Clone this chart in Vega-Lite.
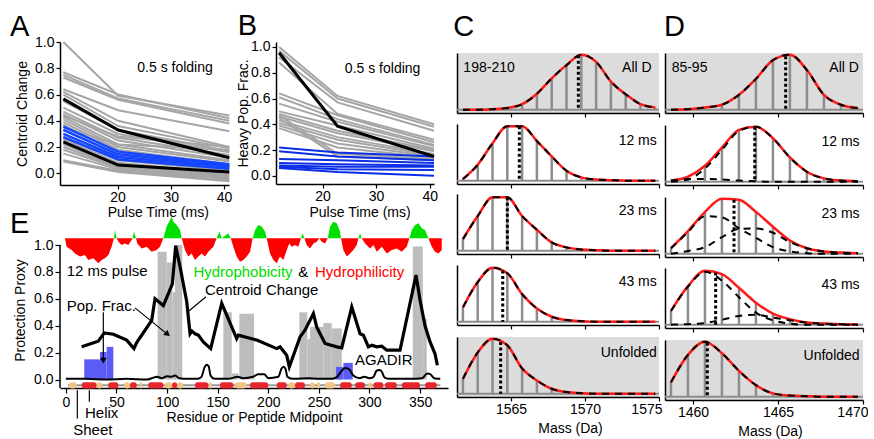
{
"$schema": "https://vega.github.io/schema/vega-lite/v6.json",
"padding": {"left": 10, "top": 12, "right": 0, "bottom": 0},
"autosize": {"type": "pad"},
"config": {
  "view": {"stroke": null},
  "font": "Liberation Sans",
  "axis": {"labelFont": "Liberation Sans", "titleFont": "Liberation Sans", "labelFontSize": 14, "titleFontSize": 14, "titleFontWeight": "normal", "labelColor": "#000", "titleColor": "#000", "domainColor": "#000", "tickColor": "#000", "grid": false, "domainWidth": 1.5, "tickWidth": 1.2, "tickSize": 4, "labelPadding": 2, "labelOverlap": false},
  "text": {"font": "Liberation Sans", "color": "#000"}
},
"datasets": {
  "dA": [
    {"id":"g1","g":"gray","t":9.8,"v":1.0},{"id":"g1","g":"gray","t":20.1,"v":0.59},{"id":"g1","g":"gray","t":41,"v":0.44},
    {"id":"g2","g":"gray","t":9.8,"v":0.77},{"id":"g2","g":"gray","t":20.1,"v":0.60},{"id":"g2","g":"gray","t":41,"v":0.42},
    {"id":"g3","g":"gray","t":9.8,"v":0.75},{"id":"g3","g":"gray","t":20.1,"v":0.57},{"id":"g3","g":"gray","t":41,"v":0.40},
    {"id":"g4","g":"gray","t":9.8,"v":0.73},{"id":"g4","g":"gray","t":20.1,"v":0.56},{"id":"g4","g":"gray","t":41,"v":0.38},
    {"id":"g5","g":"gray","t":9.8,"v":0.64},{"id":"g5","g":"gray","t":20.1,"v":0.48},{"id":"g5","g":"gray","t":41,"v":0.32},
    {"id":"g6","g":"gray","t":9.8,"v":0.62},{"id":"g6","g":"gray","t":20.1,"v":0.40},{"id":"g6","g":"gray","t":41,"v":0.20},
    {"id":"g7","g":"gray","t":9.8,"v":0.60},{"id":"g7","g":"gray","t":20.1,"v":0.36},{"id":"g7","g":"gray","t":41,"v":0.19},
    {"id":"g8","g":"gray","t":9.8,"v":0.55},{"id":"g8","g":"gray","t":20.1,"v":0.33},{"id":"g8","g":"gray","t":41,"v":0.17},
    {"id":"g9","g":"gray","t":9.8,"v":0.50},{"id":"g9","g":"gray","t":20.1,"v":0.30},{"id":"g9","g":"gray","t":41,"v":0.16},
    {"id":"g10","g":"gray","t":9.8,"v":0.47},{"id":"g10","g":"gray","t":20.1,"v":0.27},{"id":"g10","g":"gray","t":41,"v":0.14},
    {"id":"g11","g":"gray","t":9.8,"v":0.45},{"id":"g11","g":"gray","t":20.1,"v":0.25},{"id":"g11","g":"gray","t":41,"v":0.12},
    {"id":"g12","g":"gray","t":9.8,"v":0.43},{"id":"g12","g":"gray","t":20.1,"v":0.22},{"id":"g12","g":"gray","t":41,"v":0.10},
    {"id":"g13","g":"gray","t":9.8,"v":0.41},{"id":"g13","g":"gray","t":20.1,"v":0.20},{"id":"g13","g":"gray","t":41,"v":0.09},
    {"id":"g14","g":"gray","t":9.8,"v":0.39},{"id":"g14","g":"gray","t":20.1,"v":0.18},{"id":"g14","g":"gray","t":41,"v":0.07},
    {"id":"g15","g":"gray","t":9.8,"v":0.37},{"id":"g15","g":"gray","t":20.1,"v":0.16},{"id":"g15","g":"gray","t":41,"v":0.06},
    {"id":"g16","g":"gray","t":9.8,"v":0.33},{"id":"g16","g":"gray","t":20.1,"v":0.14},{"id":"g16","g":"gray","t":41,"v":0.05},
    {"id":"g17","g":"gray","t":9.8,"v":0.30},{"id":"g17","g":"gray","t":20.1,"v":0.12},{"id":"g17","g":"gray","t":41,"v":0.03},
    {"id":"g18","g":"gray","t":9.8,"v":0.28},{"id":"g18","g":"gray","t":20.1,"v":0.10},{"id":"g18","g":"gray","t":41,"v":0.02},
    {"id":"g19","g":"gray","t":9.8,"v":0.26},{"id":"g19","g":"gray","t":20.1,"v":0.08},{"id":"g19","g":"gray","t":41,"v":0.0},
    {"id":"g20","g":"gray","t":9.8,"v":0.22},{"id":"g20","g":"gray","t":20.1,"v":0.06},{"id":"g20","g":"gray","t":41,"v":-0.01},
    {"id":"g21","g":"gray","t":9.8,"v":0.20},{"id":"g21","g":"gray","t":20.1,"v":0.05},{"id":"g21","g":"gray","t":41,"v":-0.02},
    {"id":"g22","g":"gray","t":9.8,"v":0.18},{"id":"g22","g":"gray","t":20.1,"v":0.04},{"id":"g22","g":"gray","t":41,"v":-0.03},
    {"id":"g23","g":"gray","t":9.8,"v":0.15},{"id":"g23","g":"gray","t":20.1,"v":0.03},{"id":"g23","g":"gray","t":41,"v":-0.04},
    {"id":"g24","g":"gray","t":9.8,"v":0.10},{"id":"g24","g":"gray","t":20.1,"v":0.02},{"id":"g24","g":"gray","t":41,"v":-0.05},
    {"id":"g25","g":"gray","t":9.8,"v":0.09},{"id":"g25","g":"gray","t":20.1,"v":0.01},{"id":"g25","g":"gray","t":41,"v":-0.06},
    {"id":"g26","g":"gray","t":9.8,"v":0.44},{"id":"g26","g":"gray","t":20.1,"v":0.28},{"id":"g26","g":"gray","t":41,"v":0.20},
    {"id":"g27","g":"gray","t":9.8,"v":0.35},{"id":"g27","g":"gray","t":20.1,"v":0.22},{"id":"g27","g":"gray","t":41,"v":0.18},
    {"id":"b1","g":"blue","t":9.8,"v":0.355},{"id":"b1","g":"blue","t":20.1,"v":0.165},{"id":"b1","g":"blue","t":41,"v":0.07},
    {"id":"b2","g":"blue","t":9.8,"v":0.33},{"id":"b2","g":"blue","t":20.1,"v":0.145},{"id":"b2","g":"blue","t":41,"v":0.06},
    {"id":"b3","g":"blue","t":9.8,"v":0.30},{"id":"b3","g":"blue","t":20.1,"v":0.125},{"id":"b3","g":"blue","t":41,"v":0.05},
    {"id":"b4","g":"blue","t":9.8,"v":0.275},{"id":"b4","g":"blue","t":20.1,"v":0.105},{"id":"b4","g":"blue","t":41,"v":0.035},
    {"id":"k1","g":"black","t":9.8,"v":0.567},{"id":"k1","g":"black","t":20.1,"v":0.33},{"id":"k1","g":"black","t":41,"v":0.119},
    {"id":"k2","g":"black","t":9.8,"v":0.24},{"id":"k2","g":"black","t":20.1,"v":0.063},{"id":"k2","g":"black","t":41,"v":0.01}
  ],
  "dB": [
    {"id":"g1","g":"gray","t":11.9,"v":1.0},{"id":"g1","g":"gray","t":22.8,"v":0.62},{"id":"g1","g":"gray","t":40.8,"v":0.40},
    {"id":"g2","g":"gray","t":11.9,"v":0.97},{"id":"g2","g":"gray","t":22.8,"v":0.60},{"id":"g2","g":"gray","t":40.8,"v":0.38},
    {"id":"g3","g":"gray","t":11.9,"v":0.92},{"id":"g3","g":"gray","t":22.8,"v":0.57},{"id":"g3","g":"gray","t":40.8,"v":0.35},
    {"id":"g4","g":"gray","t":11.9,"v":0.88},{"id":"g4","g":"gray","t":22.8,"v":0.48},{"id":"g4","g":"gray","t":40.8,"v":0.28},
    {"id":"g5","g":"gray","t":11.9,"v":0.64},{"id":"g5","g":"gray","t":22.8,"v":0.47},{"id":"g5","g":"gray","t":40.8,"v":0.26},
    {"id":"g6","g":"gray","t":11.9,"v":0.61},{"id":"g6","g":"gray","t":22.8,"v":0.44},{"id":"g6","g":"gray","t":40.8,"v":0.24},
    {"id":"g7","g":"gray","t":11.9,"v":0.56},{"id":"g7","g":"gray","t":22.8,"v":0.42},{"id":"g7","g":"gray","t":40.8,"v":0.23},
    {"id":"g8","g":"gray","t":11.9,"v":0.50},{"id":"g8","g":"gray","t":22.8,"v":0.39},{"id":"g8","g":"gray","t":40.8,"v":0.21},
    {"id":"g9","g":"gray","t":11.9,"v":0.48},{"id":"g9","g":"gray","t":22.8,"v":0.35},{"id":"g9","g":"gray","t":40.8,"v":0.20},
    {"id":"g10","g":"gray","t":11.9,"v":0.46},{"id":"g10","g":"gray","t":22.8,"v":0.33},{"id":"g10","g":"gray","t":40.8,"v":0.19},
    {"id":"g11","g":"gray","t":11.9,"v":0.43},{"id":"g11","g":"gray","t":22.8,"v":0.30},{"id":"g11","g":"gray","t":40.8,"v":0.17},
    {"id":"g12","g":"gray","t":11.9,"v":0.41},{"id":"g12","g":"gray","t":22.8,"v":0.28},{"id":"g12","g":"gray","t":40.8,"v":0.16},
    {"id":"g13","g":"gray","t":11.9,"v":0.39},{"id":"g13","g":"gray","t":22.8,"v":0.25},{"id":"g13","g":"gray","t":40.8,"v":0.15},
    {"id":"g14","g":"gray","t":11.9,"v":0.37},{"id":"g14","g":"gray","t":22.8,"v":0.22},{"id":"g14","g":"gray","t":40.8,"v":0.14},
    {"id":"g15","g":"gray","t":11.9,"v":0.47},{"id":"g15","g":"gray","t":22.8,"v":0.17},{"id":"g15","g":"gray","t":40.8,"v":0.13},
    {"id":"g16","g":"gray","t":11.9,"v":0.45},{"id":"g16","g":"gray","t":22.8,"v":0.15},{"id":"g16","g":"gray","t":40.8,"v":0.12},
    {"id":"u1","g":"blue","t":11.9,"v":0.22},{"id":"u1","g":"blue","t":22.8,"v":0.18},{"id":"u1","g":"blue","t":40.8,"v":0.15},
    {"id":"u2","g":"blue","t":11.9,"v":0.19},{"id":"u2","g":"blue","t":22.8,"v":0.15},{"id":"u2","g":"blue","t":40.8,"v":0.12},
    {"id":"u3","g":"blue","t":11.9,"v":0.13},{"id":"u3","g":"blue","t":22.8,"v":0.12},{"id":"u3","g":"blue","t":40.8,"v":0.10},
    {"id":"u4","g":"blue","t":11.9,"v":0.10},{"id":"u4","g":"blue","t":22.8,"v":0.09},{"id":"u4","g":"blue","t":40.8,"v":0.08},
    {"id":"u5","g":"blue","t":11.9,"v":0.08},{"id":"u5","g":"blue","t":22.8,"v":0.07},{"id":"u5","g":"blue","t":40.8,"v":0.07},
    {"id":"u6","g":"blue","t":11.9,"v":0.07},{"id":"u6","g":"blue","t":22.8,"v":0.05},{"id":"u6","g":"blue","t":40.8,"v":0.045},
    {"id":"u7","g":"blue","t":11.9,"v":0.06},{"id":"u7","g":"blue","t":22.8,"v":0.03},{"id":"u7","g":"blue","t":40.8,"v":0.0},
    {"id":"k1","g":"black","t":11.9,"v":0.955},{"id":"k1","g":"black","t":22.8,"v":0.385},{"id":"k1","g":"black","t":40.8,"v":0.15}
  ],
  "sp": [
    {"p":"C1","m":1561.75,"v":0},{"p":"C1","m":1562.75,"v":0},{"p":"C1","m":1563.75,"v":0.01},{"p":"C1","m":1564.75,"v":0.03},{"p":"C1","m":1565.75,"v":0.10},{"p":"C1","m":1566.75,"v":0.29},{"p":"C1","m":1567.75,"v":0.57},{"p":"C1","m":1568.75,"v":0.81},{"p":"C1","m":1569.75,"v":1.0},{"p":"C1","m":1570.75,"v":0.87},{"p":"C1","m":1571.75,"v":0.51},{"p":"C1","m":1572.75,"v":0.28},{"p":"C1","m":1573.75,"v":0.10},{"p":"C1","m":1574.75,"v":0.04},
    {"p":"C2","m":1561.75,"v":0.03},{"p":"C2","m":1562.75,"v":0.29},{"p":"C2","m":1563.75,"v":0.68},{"p":"C2","m":1564.75,"v":0.99},{"p":"C2","m":1565.75,"v":0.99},{"p":"C2","m":1566.75,"v":0.72},{"p":"C2","m":1567.75,"v":0.44},{"p":"C2","m":1568.75,"v":0.18},{"p":"C2","m":1569.75,"v":0.06},{"p":"C2","m":1570.75,"v":0.02},{"p":"C2","m":1571.75,"v":0.01},{"p":"C2","m":1572.75,"v":0},{"p":"C2","m":1573.75,"v":0},{"p":"C2","m":1574.75,"v":0},
    {"p":"C3","m":1561.75,"v":0.21},{"p":"C3","m":1562.75,"v":0.63},{"p":"C3","m":1563.75,"v":0.97},{"p":"C3","m":1564.75,"v":0.97},{"p":"C3","m":1565.75,"v":0.63},{"p":"C3","m":1566.75,"v":0.38},{"p":"C3","m":1567.75,"v":0.15},{"p":"C3","m":1568.75,"v":0.06},{"p":"C3","m":1569.75,"v":0.02},{"p":"C3","m":1570.75,"v":0.01},{"p":"C3","m":1571.75,"v":0},{"p":"C3","m":1572.75,"v":0},{"p":"C3","m":1573.75,"v":0},{"p":"C3","m":1574.75,"v":0},
    {"p":"C4","m":1561.75,"v":0.26},{"p":"C4","m":1562.75,"v":0.72},{"p":"C4","m":1563.75,"v":0.98},{"p":"C4","m":1564.75,"v":0.88},{"p":"C4","m":1565.75,"v":0.50},{"p":"C4","m":1566.75,"v":0.24},{"p":"C4","m":1567.75,"v":0.09},{"p":"C4","m":1568.75,"v":0.03},{"p":"C4","m":1569.75,"v":0.01},{"p":"C4","m":1570.75,"v":0},{"p":"C4","m":1571.75,"v":0},{"p":"C4","m":1572.75,"v":0},{"p":"C4","m":1573.75,"v":0},{"p":"C4","m":1574.75,"v":0},
    {"p":"C5","m":1561.75,"v":0.27},{"p":"C5","m":1562.75,"v":0.75},{"p":"C5","m":1563.75,"v":1.0},{"p":"C5","m":1564.75,"v":0.88},{"p":"C5","m":1565.75,"v":0.46},{"p":"C5","m":1566.75,"v":0.24},{"p":"C5","m":1567.75,"v":0.09},{"p":"C5","m":1568.75,"v":0.03},{"p":"C5","m":1569.75,"v":0.01},{"p":"C5","m":1570.75,"v":0},{"p":"C5","m":1571.75,"v":0},{"p":"C5","m":1572.75,"v":0},{"p":"C5","m":1573.75,"v":0},{"p":"C5","m":1574.75,"v":0},
    {"p":"D1","m":1458.7,"v":0},{"p":"D1","m":1459.7,"v":0.01},{"p":"D1","m":1460.7,"v":0.04},{"p":"D1","m":1461.7,"v":0.09},{"p":"D1","m":1462.7,"v":0.27},{"p":"D1","m":1463.7,"v":0.56},{"p":"D1","m":1464.7,"v":0.90},{"p":"D1","m":1465.7,"v":1.0},{"p":"D1","m":1466.7,"v":0.72},{"p":"D1","m":1467.7,"v":0.27},{"p":"D1","m":1468.7,"v":0.09},{"p":"D1","m":1469.7,"v":0.03},
    {"p":"D2","m":1458.7,"v":0.02},{"p":"D2","m":1459.7,"v":0.09},{"p":"D2","m":1460.7,"v":0.29},{"p":"D2","m":1461.7,"v":0.62},{"p":"D2","m":1462.7,"v":0.94},{"p":"D2","m":1463.7,"v":1.0},{"p":"D2","m":1464.7,"v":0.79},{"p":"D2","m":1465.7,"v":0.44},{"p":"D2","m":1466.7,"v":0.18},{"p":"D2","m":1467.7,"v":0.06},{"p":"D2","m":1468.7,"v":0.02},{"p":"D2","m":1469.7,"v":0.01},
    {"p":"D3","m":1458.7,"v":0.10},{"p":"D3","m":1459.7,"v":0.41},{"p":"D3","m":1460.7,"v":0.76},{"p":"D3","m":1461.7,"v":1.0},{"p":"D3","m":1462.7,"v":0.98},{"p":"D3","m":1463.7,"v":0.76},{"p":"D3","m":1464.7,"v":0.49},{"p":"D3","m":1465.7,"v":0.24},{"p":"D3","m":1466.7,"v":0.10},{"p":"D3","m":1467.7,"v":0.04},{"p":"D3","m":1468.7,"v":0.02},{"p":"D3","m":1469.7,"v":0.01},
    {"p":"D4","m":1458.7,"v":0.25},{"p":"D4","m":1459.7,"v":0.70},{"p":"D4","m":1460.7,"v":0.98},{"p":"D4","m":1461.7,"v":0.92},{"p":"D4","m":1462.7,"v":0.67},{"p":"D4","m":1463.7,"v":0.40},{"p":"D4","m":1464.7,"v":0.20},{"p":"D4","m":1465.7,"v":0.10},{"p":"D4","m":1466.7,"v":0.04},{"p":"D4","m":1467.7,"v":0.02},{"p":"D4","m":1468.7,"v":0.01},{"p":"D4","m":1469.7,"v":0},
    {"p":"D5","m":1458.7,"v":0.26},{"p":"D5","m":1459.7,"v":0.76},{"p":"D5","m":1460.7,"v":1.0},{"p":"D5","m":1461.7,"v":0.79},{"p":"D5","m":1462.7,"v":0.47},{"p":"D5","m":1463.7,"v":0.21},{"p":"D5","m":1464.7,"v":0.06},{"p":"D5","m":1465.7,"v":0.02},{"p":"D5","m":1466.7,"v":0.01},{"p":"D5","m":1467.7,"v":0},{"p":"D5","m":1468.7,"v":0},{"p":"D5","m":1469.7,"v":0}
  ],
  "cp": [
    {"p":"D2","c":"a","m":1458.7,"v":0},{"p":"D2","c":"a","m":1459.7,"v":0.04},{"p":"D2","c":"a","m":1460.7,"v":0.24},{"p":"D2","c":"a","m":1461.7,"v":0.58},{"p":"D2","c":"a","m":1462.7,"v":0.92},{"p":"D2","c":"a","m":1463.7,"v":1.0},{"p":"D2","c":"a","m":1464.7,"v":0.79},{"p":"D2","c":"a","m":1465.7,"v":0.44},{"p":"D2","c":"a","m":1466.7,"v":0.18},{"p":"D2","c":"a","m":1467.7,"v":0.06},{"p":"D2","c":"a","m":1468.7,"v":0.02},{"p":"D2","c":"a","m":1469.7,"v":0.01},
    {"p":"D2","c":"b","m":1458.7,"v":0.02},{"p":"D2","c":"b","m":1459.7,"v":0.05},{"p":"D2","c":"b","m":1460.7,"v":0.05},{"p":"D2","c":"b","m":1461.7,"v":0.04},{"p":"D2","c":"b","m":1462.7,"v":0.02},{"p":"D2","c":"b","m":1463.7,"v":0.01},{"p":"D2","c":"b","m":1464.7,"v":0},{"p":"D2","c":"b","m":1465.7,"v":0},{"p":"D2","c":"b","m":1466.7,"v":0},{"p":"D2","c":"b","m":1467.7,"v":0},{"p":"D2","c":"b","m":1468.7,"v":0},{"p":"D2","c":"b","m":1469.7,"v":0},
    {"p":"D3","c":"a","m":1458.7,"v":0.10},{"p":"D3","c":"a","m":1459.7,"v":0.39},{"p":"D3","c":"a","m":1460.7,"v":0.68},{"p":"D3","c":"a","m":1461.7,"v":0.66},{"p":"D3","c":"a","m":1462.7,"v":0.46},{"p":"D3","c":"a","m":1463.7,"v":0.29},{"p":"D3","c":"a","m":1464.7,"v":0.12},{"p":"D3","c":"a","m":1465.7,"v":0.04},{"p":"D3","c":"a","m":1466.7,"v":0.01},{"p":"D3","c":"a","m":1467.7,"v":0},{"p":"D3","c":"a","m":1468.7,"v":0},{"p":"D3","c":"a","m":1469.7,"v":0},
    {"p":"D3","c":"b","m":1458.7,"v":0},{"p":"D3","c":"b","m":1459.7,"v":0.05},{"p":"D3","c":"b","m":1460.7,"v":0.12},{"p":"D3","c":"b","m":1461.7,"v":0.30},{"p":"D3","c":"b","m":1462.7,"v":0.45},{"p":"D3","c":"b","m":1463.7,"v":0.46},{"p":"D3","c":"b","m":1464.7,"v":0.38},{"p":"D3","c":"b","m":1465.7,"v":0.21},{"p":"D3","c":"b","m":1466.7,"v":0.10},{"p":"D3","c":"b","m":1467.7,"v":0.04},{"p":"D3","c":"b","m":1468.7,"v":0.02},{"p":"D3","c":"b","m":1469.7,"v":0.01},
    {"p":"D4","c":"a","m":1458.7,"v":0.25},{"p":"D4","c":"a","m":1459.7,"v":0.69},{"p":"D4","c":"a","m":1460.7,"v":0.96},{"p":"D4","c":"a","m":1461.7,"v":0.80},{"p":"D4","c":"a","m":1462.7,"v":0.50},{"p":"D4","c":"a","m":1463.7,"v":0.22},{"p":"D4","c":"a","m":1464.7,"v":0.08},{"p":"D4","c":"a","m":1465.7,"v":0.02},{"p":"D4","c":"a","m":1466.7,"v":0},{"p":"D4","c":"a","m":1467.7,"v":0},{"p":"D4","c":"a","m":1468.7,"v":0},{"p":"D4","c":"a","m":1469.7,"v":0},
    {"p":"D4","c":"b","m":1458.7,"v":0},{"p":"D4","c":"b","m":1459.7,"v":0.01},{"p":"D4","c":"b","m":1460.7,"v":0.03},{"p":"D4","c":"b","m":1461.7,"v":0.09},{"p":"D4","c":"b","m":1462.7,"v":0.16},{"p":"D4","c":"b","m":1463.7,"v":0.18},{"p":"D4","c":"b","m":1464.7,"v":0.13},{"p":"D4","c":"b","m":1465.7,"v":0.08},{"p":"D4","c":"b","m":1466.7,"v":0.04},{"p":"D4","c":"b","m":1467.7,"v":0.02},{"p":"D4","c":"b","m":1468.7,"v":0.01},{"p":"D4","c":"b","m":1469.7,"v":0}
  ],
  "ce": [
    {"p":"C1","m":1569.55,"v":0.99},{"p":"C2","m":1565.56,"v":0.99},{"p":"C3","m":1564.75,"v":0.97},{"p":"C4","m":1564.44,"v":0.93},{"p":"C5","m":1564.3,"v":0.94},
    {"p":"D1","m":1465.45,"v":0.97},{"p":"D2","m":1463.63,"v":1.0},{"p":"D3","m":1462.41,"v":0.98},{"p":"D4","m":1461.33,"v":0.95},{"p":"D5","m":1460.84,"v":0.98}
  ],
  "hy": [
    {"r":-0.9,"h":0},{"r":0.76,"h":-0.35},{"r":5.66,"h":-0.49},{"r":9.0,"h":-0.63},{"r":13.95,"h":-0.76},{"r":18.9,"h":-0.69},{"r":22.1,"h":-0.90},{"r":27.1,"h":-0.83},{"r":32.05,"h":-1.04},{"r":35.4,"h":-0.90},{"r":38.6,"h":-0.83},{"r":42.0,"h":-0.69},{"r":45.2,"h":-0.35},{"r":47.5,"h":0},{"r":48.5,"h":0.35},{"r":50.2,"h":0},{"r":51.9,"h":-0.14},{"r":55.1,"h":-0.28},{"r":58.4,"h":-0.21},{"r":61.7,"h":-0.28},{"r":65.0,"h":-0.07},{"r":66.0,"h":0},{"r":67.3,"h":0.28},{"r":69.3,"h":0},{"r":70.6,"h":-0.21},{"r":74.9,"h":-0.42},{"r":79.9,"h":-0.35},{"r":84.7,"h":-0.56},{"r":89.7,"h":-0.49},{"r":93.0,"h":-0.35},{"r":96.3,"h":0},{"r":99.6,"h":0.49},{"r":102.9,"h":0.76},{"r":104.6,"h":0.90},{"r":106.2,"h":0.69},{"r":109.5,"h":0.56},{"r":112.8,"h":0.35},{"r":114.5,"h":0},{"r":117.7,"h":-0.49},{"r":121.0,"h":-0.76},{"r":124.3,"h":-0.63},{"r":127.6,"h":-0.90},{"r":131.0,"h":-0.76},{"r":134.2,"h":-0.63},{"r":137.5,"h":-0.76},{"r":140.8,"h":-0.56},{"r":145.7,"h":-0.35},{"r":149.0,"h":0},{"r":151.7,"h":0.28},{"r":154.0,"h":0},{"r":160.6,"h":0.21},{"r":162.9,"h":0},{"r":165.5,"h":-0.35},{"r":168.8,"h":-0.76},{"r":172.1,"h":-0.97},{"r":175.3,"h":-0.90},{"r":178.7,"h":-0.76},{"r":182.0,"h":-0.56},{"r":184.6,"h":0},{"r":187.0,"h":0.35},{"r":190.2,"h":0.56},{"r":193.5,"h":0.49},{"r":196.8,"h":0.28},{"r":198.5,"h":0},{"r":201.7,"h":-0.63},{"r":205.1,"h":-0.90},{"r":208.3,"h":-1.04},{"r":211.6,"h":-0.76},{"r":214.9,"h":-0.90},{"r":218.2,"h":-0.49},{"r":220.8,"h":-0.21},{"r":223.2,"h":-0.35},{"r":226.5,"h":-0.28},{"r":229.7,"h":-0.35},{"r":232.4,"h":0},{"r":234.0,"h":0.21},{"r":235.7,"h":0},{"r":238.0,"h":-0.28},{"r":241.3,"h":-0.42},{"r":244.6,"h":-0.21},{"r":247.9,"h":-0.14},{"r":250.5,"h":0},{"r":252.8,"h":-0.14},{"r":256.1,"h":-0.21},{"r":258.8,"h":0},{"r":261.1,"h":0.49},{"r":264.3,"h":0.69},{"r":267.7,"h":0.63},{"r":270.9,"h":0.28},{"r":271.9,"h":0},{"r":274.2,"h":-0.49},{"r":277.6,"h":-0.76},{"r":280.8,"h":-0.63},{"r":284.1,"h":-0.49},{"r":287.4,"h":-0.28},{"r":289.1,"h":0},{"r":290.7,"h":0.21},{"r":292.3,"h":0},{"r":295.7,"h":-0.21},{"r":300.6,"h":-0.42},{"r":303.9,"h":-0.28},{"r":307.2,"h":-0.56},{"r":312.2,"h":-0.35},{"r":317.1,"h":-0.63},{"r":322.0,"h":-0.49},{"r":326.9,"h":-0.42},{"r":331.9,"h":-0.56},{"r":336.8,"h":-0.35},{"r":339.5,"h":0},{"r":341.8,"h":0.35},{"r":345.1,"h":0.56},{"r":348.4,"h":0.63},{"r":351.7,"h":0.42},{"r":354.9,"h":0.35},{"r":358.3,"h":0},{"r":361.6,"h":-0.35},{"r":364.8,"h":-0.56},{"r":368.2,"h":-0.63},{"r":371.4,"h":-0.49},{"r":371.5,"h":0}
  ],
  "gb": [
    {"r1":90.7,"r2":99.6,"v":0.95},{"r1":99.6,"r2":105.2,"v":0.87},{"r1":105.2,"r2":107.8,"v":0.65},{"r1":107.8,"r2":115.0,"v":1.0},
    {"r1":155.6,"r2":163.9,"v":0.50},{"r1":163.9,"r2":170.4,"v":0.045},{"r1":171.4,"r2":186.0,"v":0.49},
    {"r1":230.7,"r2":238.6,"v":0.50},{"r1":238.6,"r2":241.3,"v":0.30},{"r1":241.3,"r2":254.4,"v":0.39},{"r1":254.4,"r2":262.7,"v":0.42},{"r1":262.7,"r2":272.6,"v":0.38},
    {"r1":342.8,"r2":352.7,"v":0.99},{"r1":352.7,"r2":356.6,"v":0.45}
  ],
  "bb": [
    {"r1":18.2,"r2":33.7,"v":0.15},{"r1":33.7,"r2":40.3,"v":0.205},{"r1":40.3,"r2":46.9,"v":0.243},
    {"r1":267.0,"r2":274.2,"v":0.094},{"r1":274.2,"r2":283.5,"v":0.124}
  ],
  "ss": [
    {"r1":3.1,"r2":10.7,"k":"sheet"},{"r1":15.6,"r2":30.4,"k":"helix"},{"r1":30.4,"r2":36.0,"k":"sheet"},{"r1":41.9,"r2":51.8,"k":"helix"},{"r1":57.4,"r2":63.4,"k":"sheet"},{"r1":63.4,"r2":70.0,"k":"helix"},{"r1":73,"r2":75,"k":"sheet"},{"r1":81.4,"r2":96.3,"k":"helix"},{"r1":98,"r2":105,"k":"sheet"},{"r1":105,"r2":110,"k":"helix"},{"r1":110,"r2":116,"k":"sheet"},{"r1":127.6,"r2":140.8,"k":"helix"},{"r1":141.5,"r2":144,"k":"sheet"},{"r1":152.3,"r2":165.5,"k":"helix"},{"r1":167.1,"r2":178.7,"k":"sheet"},{"r1":182,"r2":200,"k":"helix"},{"r1":208.4,"r2":218.2,"k":"helix"},{"r1":219.8,"r2":226.4,"k":"sheet"},{"r1":226.4,"r2":236.3,"k":"helix"},{"r1":241,"r2":246,"k":"sheet"},{"r1":247.9,"r2":251.2,"k":"sheet"},{"r1":256.1,"r2":266,"k":"sheet"},{"r1":271,"r2":282.5,"k":"helix"},{"r1":285.8,"r2":295.6,"k":"helix"},{"r1":299,"r2":302.3,"k":"sheet"},{"r1":303.9,"r2":313.7,"k":"helix"},{"r1":315.4,"r2":327,"k":"helix"},{"r1":332,"r2":350,"k":"helix"},{"r1":355,"r2":366.5,"k":"helix"}
  ],
  "cc": [
    {"r":15.6,"v":0.243},{"r":32.0,"v":0.285},{"r":38.0,"v":0.347},{"r":46.9,"v":0.337},{"r":60.1,"v":0.293},{"r":67.3,"v":0.231},{"r":70.0,"v":0.275},{"r":84.8,"v":0.44},{"r":88.1,"v":0.60},{"r":96.3,"v":0.55},{"r":105.2,"v":0.71},{"r":108.5,"v":0.995},{"r":112.8,"v":0.84},{"r":119.4,"v":0.58},{"r":122.7,"v":0.34},{"r":124.5,"v":0.36},{"r":127.6,"v":0.34},{"r":130.9,"v":0.33},{"r":135.8,"v":0.28},{"r":143.1,"v":0.23},{"r":154.0,"v":0.566},{"r":168.8,"v":0.305},{"r":170.4,"v":0.33},{"r":188.6,"v":0.293},{"r":208.4,"v":0.23},{"r":211.6,"v":0.243},{"r":218.2,"v":0.18},{"r":220.8,"v":0.094},{"r":231.4,"v":0.317},{"r":236.3,"v":0.367},{"r":244.6,"v":0.49},{"r":247.9,"v":0.39},{"r":256.1,"v":0.268},{"r":267.7,"v":0.243},{"r":272.6,"v":0.235},{"r":282.5,"v":0.54},{"r":290.7,"v":0.34},{"r":294.0,"v":0.33},{"r":298.9,"v":0.243},{"r":302.3,"v":0.255},{"r":307.2,"v":0.243},{"r":312.2,"v":0.248},{"r":317.1,"v":0.218},{"r":330.2,"v":0.218},{"r":346.0,"v":0.777},{"r":350.0,"v":0.59},{"r":354.9,"v":0.40},{"r":359.9,"v":0.28},{"r":364.8,"v":0.19},{"r":367.1,"v":0.106}
  ],
  "ag": [
    {"r":0,"v":0.005},{"r":20,"v":0.005},{"r":40,"v":0.0},{"r":60,"v":0.005},{"r":80,"v":0.0},{"r":85,"v":0.01},{"r":90,"v":0.02},{"r":95,"v":0.01},{"r":100,"v":0.025},{"r":104,"v":0.02},{"r":108,"v":0.03},{"r":112,"v":0.01},{"r":120,"v":0.005},{"r":130,"v":0.005},{"r":134,"v":0.02},{"r":137,"v":0.09},{"r":139,"v":0.11},{"r":141,"v":0.10},{"r":143,"v":0.03},{"r":147,"v":0.005},{"r":160,"v":0.005},{"r":170,"v":0.02},{"r":175,"v":0.01},{"r":185,"v":0.02},{"r":190,"v":0.04},{"r":196,"v":0.04},{"r":200,"v":0.01},{"r":210,"v":0.02},{"r":213,"v":0.08},{"r":215,"v":0.095},{"r":217,"v":0.08},{"r":219,"v":0.02},{"r":225,"v":0.005},{"r":240,"v":0.01},{"r":250,"v":0.005},{"r":262,"v":0.005},{"r":268,"v":0.02},{"r":272,"v":0.06},{"r":276,"v":0.085},{"r":280,"v":0.075},{"r":284,"v":0.03},{"r":290,"v":0.01},{"r":295,"v":0.02},{"r":300,"v":0.01},{"r":304,"v":0.02},{"r":307,"v":0.065},{"r":310,"v":0.07},{"r":312,"v":0.06},{"r":315,"v":0.015},{"r":320,"v":0.005},{"r":340,"v":0.005},{"r":352,"v":0.01},{"r":357,"v":0.045},{"r":360,"v":0.04},{"r":364,"v":0.01},{"r":370,"v":0.005}
  ]
},
"hconcat": [
  {"vconcat": [
    {"hconcat": [
      {"width": 169, "height": 143,
       "layer": [
        {"data": {"name": "dA"}, "transform": [{"filter": "datum.g == 'gray'"}],
         "mark": {"type": "line", "color": "#a6a6a6", "strokeWidth": 2},
         "encoding": {
          "x": {"field": "t", "type": "quantitative", "scale": {"domain": [9.17, 40.94], "nice": false, "zero": false}, "axis": {"values": [20, 30, 40], "title": null, "labelPadding": 1}},
          "y": {"field": "v", "type": "quantitative", "scale": {"domain": [-0.089, 1.0], "nice": false, "zero": false}, "axis": {"values": [0, 0.2, 0.4, 0.6, 0.8, 1.0], "tickCount": 12, "labelOverlap": false, "format": ".1f", "title": "Centroid Change", "titlePadding": 5}},
          "detail": {"field": "id"}}},
        {"data": {"name": "dA"}, "transform": [{"filter": "datum.g == 'blue'"}],
         "mark": {"type": "line", "color": "#1446ff", "strokeWidth": 2.5},
         "encoding": {"x": {"field": "t", "type": "quantitative"}, "y": {"field": "v", "type": "quantitative"}, "detail": {"field": "id"}}},
        {"data": {"name": "dA"}, "transform": [{"filter": "datum.g == 'black'"}],
         "mark": {"type": "line", "color": "#000", "strokeWidth": 3},
         "encoding": {"x": {"field": "t", "type": "quantitative"}, "y": {"field": "v", "type": "quantitative"}, "detail": {"field": "id"}}},
        {"data": {"values": [{}]}, "mark": {"type": "text", "align": "left", "baseline": "middle", "fontSize": 14},
         "encoding": {"x": {"datum": 23.7}, "y": {"datum": 0.80}, "text": {"value": "0.5 s folding"}}},
        {"data": {"values": [{}]}, "mark": {"type": "text", "align": "left", "baseline": "alphabetic", "fontSize": 29},
         "encoding": {"x": {"datum": -0.21}, "y": {"datum": 1.043}, "text": {"value": "A"}}}
       ]},
      {"width": 158, "height": 142,
       "layer": [
        {"data": {"name": "dB"}, "transform": [{"filter": "datum.g == 'gray'"}],
         "mark": {"type": "line", "color": "#a6a6a6", "strokeWidth": 2},
         "encoding": {
          "x": {"field": "t", "type": "quantitative", "scale": {"domain": [11.32, 40.8], "nice": false, "zero": false}, "axis": {"values": [20, 30, 40], "title": null, "labelPadding": 1}},
          "y": {"field": "v", "type": "quantitative", "scale": {"domain": [-0.064, 1.0388], "nice": false, "zero": false}, "axis": {"values": [0, 0.2, 0.4, 0.6, 0.8, 1.0], "tickCount": 12, "labelOverlap": false, "format": ".1f", "title": "Heavy Pop. Frac.", "titlePadding": 0}},
          "detail": {"field": "id"}}},
        {"data": {"name": "dB"}, "transform": [{"filter": "datum.g == 'blue'"}],
         "mark": {"type": "line", "color": "#0a2ee6", "strokeWidth": 2},
         "encoding": {"x": {"field": "t", "type": "quantitative"}, "y": {"field": "v", "type": "quantitative"}, "detail": {"field": "id"}}},
        {"data": {"name": "dB"}, "transform": [{"filter": "datum.g == 'black'"}],
         "mark": {"type": "line", "color": "#000", "strokeWidth": 3},
         "encoding": {"x": {"field": "t", "type": "quantitative"}, "y": {"field": "v", "type": "quantitative"}, "detail": {"field": "id"}}},
        {"data": {"values": [{}]}, "mark": {"type": "text", "align": "left", "baseline": "middle", "fontSize": 14},
         "encoding": {"x": {"datum": 24.17}, "y": {"datum": 0.83}, "text": {"value": "0.5 s folding"}}},
        {"data": {"values": [{}]}, "mark": {"type": "text", "align": "left", "baseline": "alphabetic", "fontSize": 29},
         "encoding": {"x": {"datum": 4.17}, "y": {"datum": 1.091}, "text": {"value": "B"}}}
       ]}
    ], "spacing": 0},
    {"width": 388, "height": 174,
     "resolve": {"scale": {"y": "independent"}},
     "layer": [
      {"data": {"name": "hy"},
       "layer": [
        {"transform": [{"filter": "datum.h <= 0"}], "mark": {"type": "area", "color": "#ff0000"},
         "encoding": {"x": {"field": "r", "type": "quantitative", "scale": {"domain": [-5.8, 377.6], "nice": false, "zero": false}},
                      "y": {"field": "h", "type": "quantitative", "scale": {"domain": [-6.225, 1.0125], "nice": false, "zero": false}, "axis": null},
                      "y2": {"datum": 0}}},
        {"transform": [{"filter": "datum.h >= 0"}], "mark": {"type": "area", "color": "#00e000"},
         "encoding": {"x": {"field": "r", "type": "quantitative"},
                      "y": {"field": "h", "type": "quantitative", "axis": null},
                      "y2": {"datum": 0}}}
       ]},
      {"layer": [
        {"data": {"name": "gb"}, "mark": {"type": "rect", "color": "#bdbdbd"},
         "encoding": {
          "x": {"field": "r1", "type": "quantitative", "scale": {"domain": [-5.8, 377.6], "nice": false, "zero": false}, "axis": {"values": [0, 50, 100, 150, 200, 250, 300, 350], "title": "Residue or Peptide Midpoint", "tickSize": 5, "labelPadding": 2, "titlePadding": 1}},
          "x2": {"field": "r2"},
          "y": {"field": "v", "type": "quantitative", "scale": {"domain": [-0.063, 1.231], "nice": false, "zero": false}, "axis": {"orient": "left", "values": [0, 0.2, 0.4, 0.6, 0.8, 1.0], "tickCount": 12, "labelOverlap": false, "format": ".1f", "title": "Protection Proxy", "titlePadding": 6, "domain": false, "tickSize": 5, "titleY": 96}},
          "y2": {"datum": 0}}},
        {"data": {"name": "bb"}, "mark": {"type": "rect", "color": "#5b5bf5"},
         "encoding": {"x": {"field": "r1", "type": "quantitative"}, "x2": {"field": "r2"}, "y": {"field": "v", "type": "quantitative"}, "y2": {"datum": 0}}},
        {"data": {"values": [{}]}, "mark": {"type": "rule", "color": "#9a9a9a", "strokeWidth": 2},
         "encoding": {"x": {"datum": 2}, "x2": {"datum": 370}, "y": {"datum": -0.042}}},
        {"data": {"name": "ss"}, "mark": {"type": "rect", "cornerRadius": 2.5},
         "encoding": {"x": {"field": "r1", "type": "quantitative"}, "x2": {"field": "r2"}, "y": {"datum": -0.02}, "y2": {"datum": -0.066},
                      "color": {"field": "k", "type": "nominal", "scale": {"domain": ["helix", "sheet"], "range": ["#e8262e", "#f2c585"]}, "legend": null}}},
        {"data": {"name": "ag"}, "mark": {"type": "line", "color": "#000", "strokeWidth": 2, "interpolate": "monotone"},
         "encoding": {"x": {"field": "r", "type": "quantitative"}, "y": {"field": "v", "type": "quantitative"}}},
        {"data": {"name": "cc"}, "mark": {"type": "line", "color": "#000", "strokeWidth": 3.2},
         "encoding": {"x": {"field": "r", "type": "quantitative"}, "y": {"field": "v", "type": "quantitative"}}},
        {"data": {"values": [{}]}, "mark": {"type": "rule", "color": "#000", "strokeWidth": 1.5},
         "encoding": {"x": {"datum": -5.8}, "y": {"datum": -0.063}, "y2": {"datum": 1.0}}},
        {"data": {"values": [{}]}, "mark": {"type": "rule", "color": "#000", "strokeWidth": 1.2},
         "encoding": {"x": {"datum": 37}, "y": {"datum": 0.50}, "y2": {"datum": 0.15}}},
        {"data": {"values": [{}]}, "mark": {"type": "rule", "color": "#000", "strokeWidth": 1.2},
         "encoding": {"x": {"datum": 68.3}, "x2": {"datum": 99}, "y": {"datum": 0.533}, "y2": {"datum": 0.345}}},
        {"data": {"values": [{}]}, "mark": {"type": "rule", "color": "#000", "strokeWidth": 1.2},
         "encoding": {"x": {"datum": 138.5}, "x2": {"datum": 121.5}, "y": {"datum": 0.615}, "y2": {"datum": 0.51}}},
        {"data": {"values": [{}]}, "mark": {"type": "rule", "color": "#000", "strokeWidth": 1.2},
         "encoding": {"x": {"datum": 23.2}, "y": {"datum": -0.08}, "y2": {"datum": -0.165}}},
        {"data": {"values": [{}]}, "mark": {"type": "rule", "color": "#000", "strokeWidth": 1.2},
         "encoding": {"x": {"datum": 11.3}, "y": {"datum": -0.08}, "y2": {"datum": -0.29}}},
        {"data": {"values": [{}]}, "mark": {"type": "point", "shape": "triangle-down", "filled": true, "size": 45, "color": "#000", "opacity": 1},
         "encoding": {"x": {"datum": 37}, "y": {"datum": 0.14}}},
        {"data": {"values": [{}]}, "mark": {"type": "point", "shape": "triangle-up", "filled": true, "size": 45, "color": "#000", "opacity": 1, "angle": 129},
         "encoding": {"x": {"datum": 100.5}, "y": {"datum": 0.337}}},
        {"data": {"values": [{}]}, "mark": {"type": "text", "align": "center", "baseline": "middle", "fontSize": 14},
         "encoding": {"x": {"datum": 91.3}, "y": {"datum": 1.238}, "text": {"value": "Pulse Time (ms)"}}},
        {"data": {"values": [{}]}, "mark": {"type": "text", "align": "center", "baseline": "middle", "fontSize": 14},
         "encoding": {"x": {"datum": 290.7}, "y": {"datum": 1.238}, "text": {"value": "Pulse Time (ms)"}}},
        {"data": {"values": [{}]}, "mark": {"type": "text", "align": "left", "baseline": "middle", "fontSize": 15},
         "encoding": {"x": {"datum": 0.8}, "y": {"datum": 0.806}, "text": {"value": "12 ms pulse"}}},
        {"data": {"values": [{}]}, "mark": {"type": "text", "align": "left", "baseline": "middle", "fontSize": 15},
         "encoding": {"x": {"datum": 0.8}, "y": {"datum": 0.548}, "text": {"value": "Pop. Frac."}}},
        {"data": {"values": [{}]}, "mark": {"type": "text", "align": "left", "baseline": "middle", "fontSize": 15},
         "encoding": {"x": {"datum": 137.5}, "y": {"datum": 0.665}, "text": {"value": "Centroid Change"}}},
        {"data": {"values": [{}]}, "mark": {"type": "text", "align": "left", "baseline": "middle", "fontSize": 15, "color": "#00dd00"},
         "encoding": {"x": {"datum": 126}, "y": {"datum": 0.80}, "text": {"value": "Hydrophobicity"}}},
        {"data": {"values": [{}]}, "mark": {"type": "text", "align": "left", "baseline": "middle", "fontSize": 15},
         "encoding": {"x": {"datum": 229.7}, "y": {"datum": 0.80}, "text": {"value": "&"}}},
        {"data": {"values": [{}]}, "mark": {"type": "text", "align": "left", "baseline": "middle", "fontSize": 15, "color": "#ff0000"},
         "encoding": {"x": {"datum": 246.2}, "y": {"datum": 0.80}, "text": {"value": "Hydrophilicity"}}},
        {"data": {"values": [{}]}, "mark": {"type": "text", "align": "left", "baseline": "middle", "fontSize": 15},
         "encoding": {"x": {"datum": 285.8}, "y": {"datum": 0.144}, "text": {"value": "AGADIR"}}},
        {"data": {"values": [{}]}, "mark": {"type": "text", "align": "left", "baseline": "middle", "fontSize": 15},
         "encoding": {"x": {"datum": 18.9}, "y": {"datum": -0.249}, "text": {"value": "Helix"}}},
        {"data": {"values": [{}]}, "mark": {"type": "text", "align": "left", "baseline": "middle", "fontSize": 15},
         "encoding": {"x": {"datum": 7.3}, "y": {"datum": -0.378}, "text": {"value": "Sheet"}}},
        {"data": {"values": [{}]}, "mark": {"type": "text", "align": "left", "baseline": "alphabetic", "fontSize": 29},
         "encoding": {"x": {"datum": -55.2}, "y": {"datum": 1.086}, "text": {"value": "E"}}}
      ]}
     ]}
  ], "spacing": 2},
  {"hconcat": [
    {"vconcat": [
      {"width": 202, "height": 4, "data": {"values": [{}]},
       "mark": {"type": "text", "align": "left", "baseline": "alphabetic", "fontSize": 29},
       "encoding": {"x": {"datum": 1561.1, "scale": {"domain": [1561.35, 1575], "nice": false, "zero": false}, "axis": null},
                    "y": {"datum": 2.5, "scale": {"domain": [0, 1], "nice": false, "zero": false}, "axis": null},
                    "text": {"value": "C"}}},
      {"width": 202, "height": 60, "view": {"fill": "#dcdcdc"},
       "layer": [
        {"data": {"values": [{}]}, "mark": {"type": "rule", "color": "#8c8c8c", "strokeWidth": 2},
         "encoding": {"y": {"datum": 0, "type": "quantitative", "scale": {"domain": [-0.06, 1.03], "nice": false, "zero": false}, "axis": {"labels": false, "ticks": false, "title": null}}}},
        {"data": {"name": "sp"}, "transform": [{"filter": "datum.p == 'C1'"}], "mark": {"type": "rule", "color": "#8c8c8c", "strokeWidth": 2.5},
         "encoding": {"x": {"field": "m", "type": "quantitative", "scale": {"domain": [1561.35, 1575], "nice": false, "zero": false}, "axis": {"values": [1565, 1570, 1575], "labels": false, "title": null}},
                      "y": {"field": "v", "type": "quantitative"}, "y2": {"datum": 0}}},
        {"data": {"name": "sp"}, "transform": [{"filter": "datum.p == 'C1'"}], "mark": {"type": "line", "color": "#ff1a1a", "strokeWidth": 2.5, "interpolate": "monotone"},
         "encoding": {"x": {"field": "m", "type": "quantitative"}, "y": {"field": "v", "type": "quantitative"}}},
        {"data": {"name": "sp"}, "transform": [{"filter": "datum.p == 'C1'"}], "mark": {"type": "line", "color": "#000", "strokeWidth": 2, "strokeDash": [7, 6], "interpolate": "monotone"},
         "encoding": {"x": {"field": "m", "type": "quantitative"}, "y": {"field": "v", "type": "quantitative"}}},
        {"data": {"name": "ce"}, "transform": [{"filter": "datum.p == 'C1'"}], "mark": {"type": "rule", "color": "#000", "strokeWidth": 3, "strokeDash": [3, 2.5]},
         "encoding": {"x": {"field": "m", "type": "quantitative"}, "y": {"field": "v", "type": "quantitative"}, "y2": {"datum": 0}}},
        {"data": {"values": [{}]}, "mark": {"type": "text", "align": "left", "baseline": "middle", "fontSize": 14},
         "encoding": {"x": {"datum": 1561.78}, "y": {"datum": 0.76}, "text": {"value": "198-210"}}},
        {"data": {"values": [{}]}, "mark": {"type": "text", "align": "right", "baseline": "middle", "fontSize": 14},
         "encoding": {"x": {"datum": 1574.5}, "y": {"datum": 0.76}, "text": {"value": "All D"}}}
       ]},
      {"width": 202, "height": 60,
       "layer": [
        {"data": {"values": [{}]}, "mark": {"type": "rule", "color": "#8c8c8c", "strokeWidth": 2},
         "encoding": {"y": {"datum": 0, "type": "quantitative", "scale": {"domain": [-0.06, 1.03], "nice": false, "zero": false}, "axis": {"labels": false, "ticks": false, "title": null}}}},
        {"data": {"name": "sp"}, "transform": [{"filter": "datum.p == 'C2'"}], "mark": {"type": "rule", "color": "#8c8c8c", "strokeWidth": 2.5},
         "encoding": {"x": {"field": "m", "type": "quantitative", "scale": {"domain": [1561.35, 1575], "nice": false, "zero": false}, "axis": {"values": [1565, 1570, 1575], "labels": false, "title": null}},
                      "y": {"field": "v", "type": "quantitative"}, "y2": {"datum": 0}}},
        {"data": {"name": "sp"}, "transform": [{"filter": "datum.p == 'C2'"}], "mark": {"type": "line", "color": "#ff1a1a", "strokeWidth": 2.5, "interpolate": "monotone"},
         "encoding": {"x": {"field": "m", "type": "quantitative"}, "y": {"field": "v", "type": "quantitative"}}},
        {"data": {"name": "sp"}, "transform": [{"filter": "datum.p == 'C2'"}], "mark": {"type": "line", "color": "#000", "strokeWidth": 2, "strokeDash": [7, 6], "interpolate": "monotone"},
         "encoding": {"x": {"field": "m", "type": "quantitative"}, "y": {"field": "v", "type": "quantitative"}}},
        {"data": {"name": "ce"}, "transform": [{"filter": "datum.p == 'C2'"}], "mark": {"type": "rule", "color": "#000", "strokeWidth": 3, "strokeDash": [3, 2.5]},
         "encoding": {"x": {"field": "m", "type": "quantitative"}, "y": {"field": "v", "type": "quantitative"}, "y2": {"datum": 0}}},
        {"data": {"values": [{}]}, "mark": {"type": "text", "align": "right", "baseline": "middle", "fontSize": 14},
         "encoding": {"x": {"datum": 1574.85}, "y": {"datum": 0.726}, "text": {"value": "12 ms"}}}
       ]},
      {"width": 202, "height": 60,
       "layer": [
        {"data": {"values": [{}]}, "mark": {"type": "rule", "color": "#8c8c8c", "strokeWidth": 2},
         "encoding": {"y": {"datum": 0, "type": "quantitative", "scale": {"domain": [-0.06, 1.03], "nice": false, "zero": false}, "axis": {"labels": false, "ticks": false, "title": null}}}},
        {"data": {"name": "sp"}, "transform": [{"filter": "datum.p == 'C3'"}], "mark": {"type": "rule", "color": "#8c8c8c", "strokeWidth": 2.5},
         "encoding": {"x": {"field": "m", "type": "quantitative", "scale": {"domain": [1561.35, 1575], "nice": false, "zero": false}, "axis": {"values": [1565, 1570, 1575], "labels": false, "title": null}},
                      "y": {"field": "v", "type": "quantitative"}, "y2": {"datum": 0}}},
        {"data": {"name": "sp"}, "transform": [{"filter": "datum.p == 'C3'"}], "mark": {"type": "line", "color": "#ff1a1a", "strokeWidth": 2.5, "interpolate": "monotone"},
         "encoding": {"x": {"field": "m", "type": "quantitative"}, "y": {"field": "v", "type": "quantitative"}}},
        {"data": {"name": "sp"}, "transform": [{"filter": "datum.p == 'C3'"}], "mark": {"type": "line", "color": "#000", "strokeWidth": 2, "strokeDash": [7, 6], "interpolate": "monotone"},
         "encoding": {"x": {"field": "m", "type": "quantitative"}, "y": {"field": "v", "type": "quantitative"}}},
        {"data": {"name": "ce"}, "transform": [{"filter": "datum.p == 'C3'"}], "mark": {"type": "rule", "color": "#000", "strokeWidth": 3, "strokeDash": [3, 2.5]},
         "encoding": {"x": {"field": "m", "type": "quantitative"}, "y": {"field": "v", "type": "quantitative"}, "y2": {"datum": 0}}},
        {"data": {"values": [{}]}, "mark": {"type": "text", "align": "right", "baseline": "middle", "fontSize": 14},
         "encoding": {"x": {"datum": 1574.85}, "y": {"datum": 0.726}, "text": {"value": "23 ms"}}}
       ]},
      {"width": 202, "height": 60,
       "layer": [
        {"data": {"values": [{}]}, "mark": {"type": "rule", "color": "#8c8c8c", "strokeWidth": 2},
         "encoding": {"y": {"datum": 0, "type": "quantitative", "scale": {"domain": [-0.06, 1.03], "nice": false, "zero": false}, "axis": {"labels": false, "ticks": false, "title": null}}}},
        {"data": {"name": "sp"}, "transform": [{"filter": "datum.p == 'C4'"}], "mark": {"type": "rule", "color": "#8c8c8c", "strokeWidth": 2.5},
         "encoding": {"x": {"field": "m", "type": "quantitative", "scale": {"domain": [1561.35, 1575], "nice": false, "zero": false}, "axis": {"values": [1565, 1570, 1575], "labels": false, "title": null}},
                      "y": {"field": "v", "type": "quantitative"}, "y2": {"datum": 0}}},
        {"data": {"name": "sp"}, "transform": [{"filter": "datum.p == 'C4'"}], "mark": {"type": "line", "color": "#ff1a1a", "strokeWidth": 2.5, "interpolate": "monotone"},
         "encoding": {"x": {"field": "m", "type": "quantitative"}, "y": {"field": "v", "type": "quantitative"}}},
        {"data": {"name": "sp"}, "transform": [{"filter": "datum.p == 'C4'"}], "mark": {"type": "line", "color": "#000", "strokeWidth": 2, "strokeDash": [7, 6], "interpolate": "monotone"},
         "encoding": {"x": {"field": "m", "type": "quantitative"}, "y": {"field": "v", "type": "quantitative"}}},
        {"data": {"name": "ce"}, "transform": [{"filter": "datum.p == 'C4'"}], "mark": {"type": "rule", "color": "#000", "strokeWidth": 3, "strokeDash": [3, 2.5]},
         "encoding": {"x": {"field": "m", "type": "quantitative"}, "y": {"field": "v", "type": "quantitative"}, "y2": {"datum": 0}}},
        {"data": {"values": [{}]}, "mark": {"type": "text", "align": "right", "baseline": "middle", "fontSize": 14},
         "encoding": {"x": {"datum": 1574.85}, "y": {"datum": 0.726}, "text": {"value": "43 ms"}}}
       ]},
      {"width": 202, "height": 60, "view": {"fill": "#dcdcdc"},
       "layer": [
        {"data": {"values": [{}]}, "mark": {"type": "rule", "color": "#8c8c8c", "strokeWidth": 2},
         "encoding": {"y": {"datum": 0, "type": "quantitative", "scale": {"domain": [-0.06, 1.03], "nice": false, "zero": false}, "axis": {"labels": false, "ticks": false, "title": null}}}},
        {"data": {"name": "sp"}, "transform": [{"filter": "datum.p == 'C5'"}], "mark": {"type": "rule", "color": "#8c8c8c", "strokeWidth": 2.5},
         "encoding": {"x": {"field": "m", "type": "quantitative", "scale": {"domain": [1561.35, 1575], "nice": false, "zero": false}, "axis": {"values": [1565, 1570, 1575], "format": "d", "title": "Mass (Da)", "labelPadding": 1, "titlePadding": 5, "labelFlush": true, "labelFlushOffset": 3, "titleX": 113}},
                      "y": {"field": "v", "type": "quantitative"}, "y2": {"datum": 0}}},
        {"data": {"name": "sp"}, "transform": [{"filter": "datum.p == 'C5'"}], "mark": {"type": "line", "color": "#ff1a1a", "strokeWidth": 2.5, "interpolate": "monotone"},
         "encoding": {"x": {"field": "m", "type": "quantitative"}, "y": {"field": "v", "type": "quantitative"}}},
        {"data": {"name": "sp"}, "transform": [{"filter": "datum.p == 'C5'"}], "mark": {"type": "line", "color": "#000", "strokeWidth": 2, "strokeDash": [7, 6], "interpolate": "monotone"},
         "encoding": {"x": {"field": "m", "type": "quantitative"}, "y": {"field": "v", "type": "quantitative"}}},
        {"data": {"name": "ce"}, "transform": [{"filter": "datum.p == 'C5'"}], "mark": {"type": "rule", "color": "#000", "strokeWidth": 3, "strokeDash": [3, 2.5]},
         "encoding": {"x": {"field": "m", "type": "quantitative"}, "y": {"field": "v", "type": "quantitative"}, "y2": {"datum": 0}}},
        {"data": {"values": [{}]}, "mark": {"type": "text", "align": "right", "baseline": "middle", "fontSize": 14},
         "encoding": {"x": {"datum": 1574.85}, "y": {"datum": 0.745}, "text": {"value": "Unfolded"}}}
       ]}
    ], "spacing": 3},
    {"vconcat": [
      {"width": 198, "height": 4, "data": {"values": [{}]},
       "mark": {"type": "text", "align": "left", "baseline": "alphabetic", "fontSize": 29},
       "encoding": {"x": {"datum": 1458.29, "scale": {"domain": [1458.35, 1470], "nice": false, "zero": false}, "axis": null},
                    "y": {"datum": 2.5, "scale": {"domain": [0, 1], "nice": false, "zero": false}, "axis": null},
                    "text": {"value": "D"}}},
      {"width": 198, "height": 60, "view": {"fill": "#dcdcdc"},
       "layer": [
        {"data": {"values": [{}]}, "mark": {"type": "rule", "color": "#8c8c8c", "strokeWidth": 2},
         "encoding": {"y": {"datum": 0, "type": "quantitative", "scale": {"domain": [-0.06, 1.03], "nice": false, "zero": false}, "axis": {"labels": false, "ticks": false, "title": null}}}},
        {"data": {"name": "sp"}, "transform": [{"filter": "datum.p == 'D1'"}], "mark": {"type": "rule", "color": "#8c8c8c", "strokeWidth": 2.5},
         "encoding": {"x": {"field": "m", "type": "quantitative", "scale": {"domain": [1458.35, 1470], "nice": false, "zero": false}, "axis": {"values": [1460, 1465, 1470], "labels": false, "title": null}},
                      "y": {"field": "v", "type": "quantitative"}, "y2": {"datum": 0}}},
        {"data": {"name": "sp"}, "transform": [{"filter": "datum.p == 'D1'"}], "mark": {"type": "line", "color": "#ff1a1a", "strokeWidth": 2.5, "interpolate": "monotone"},
         "encoding": {"x": {"field": "m", "type": "quantitative"}, "y": {"field": "v", "type": "quantitative"}}},
        {"data": {"name": "sp"}, "transform": [{"filter": "datum.p == 'D1'"}], "mark": {"type": "line", "color": "#000", "strokeWidth": 2, "strokeDash": [7, 6], "interpolate": "monotone"},
         "encoding": {"x": {"field": "m", "type": "quantitative"}, "y": {"field": "v", "type": "quantitative"}}},
        {"data": {"name": "ce"}, "transform": [{"filter": "datum.p == 'D1'"}], "mark": {"type": "rule", "color": "#000", "strokeWidth": 3, "strokeDash": [3, 2.5]},
         "encoding": {"x": {"field": "m", "type": "quantitative"}, "y": {"field": "v", "type": "quantitative"}, "y2": {"datum": 0}}},
        {"data": {"values": [{}]}, "mark": {"type": "text", "align": "left", "baseline": "middle", "fontSize": 14},
         "encoding": {"x": {"datum": 1458.74}, "y": {"datum": 0.76}, "text": {"value": "85-95"}}},
        {"data": {"values": [{}]}, "mark": {"type": "text", "align": "right", "baseline": "middle", "fontSize": 14},
         "encoding": {"x": {"datum": 1469.76}, "y": {"datum": 0.76}, "text": {"value": "All D"}}}
       ]},
      {"width": 198, "height": 60,
       "layer": [
        {"data": {"values": [{}]}, "mark": {"type": "rule", "color": "#8c8c8c", "strokeWidth": 2},
         "encoding": {"y": {"datum": 0, "type": "quantitative", "scale": {"domain": [-0.06, 1.03], "nice": false, "zero": false}, "axis": {"labels": false, "ticks": false, "title": null}}}},
        {"data": {"name": "sp"}, "transform": [{"filter": "datum.p == 'D2'"}], "mark": {"type": "rule", "color": "#8c8c8c", "strokeWidth": 2.5},
         "encoding": {"x": {"field": "m", "type": "quantitative", "scale": {"domain": [1458.35, 1470], "nice": false, "zero": false}, "axis": {"values": [1460, 1465, 1470], "labels": false, "title": null}},
                      "y": {"field": "v", "type": "quantitative"}, "y2": {"datum": 0}}},
        {"data": {"name": "sp"}, "transform": [{"filter": "datum.p == 'D2'"}], "mark": {"type": "line", "color": "#ff1a1a", "strokeWidth": 2.5, "interpolate": "monotone"},
         "encoding": {"x": {"field": "m", "type": "quantitative"}, "y": {"field": "v", "type": "quantitative"}}},
        {"data": {"name": "cp"}, "transform": [{"filter": "datum.p == 'D2'"}], "mark": {"type": "line", "color": "#000", "strokeWidth": 2, "strokeDash": [7, 6], "interpolate": "monotone"},
         "encoding": {"x": {"field": "m", "type": "quantitative"}, "y": {"field": "v", "type": "quantitative"}, "detail": {"field": "c"}}},
        {"data": {"name": "ce"}, "transform": [{"filter": "datum.p == 'D2'"}], "mark": {"type": "rule", "color": "#000", "strokeWidth": 3, "strokeDash": [3, 2.5]},
         "encoding": {"x": {"field": "m", "type": "quantitative"}, "y": {"field": "v", "type": "quantitative"}, "y2": {"datum": 0}}},
        {"data": {"values": [{}]}, "mark": {"type": "text", "align": "right", "baseline": "middle", "fontSize": 14},
         "encoding": {"x": {"datum": 1469.8}, "y": {"datum": 0.726}, "text": {"value": "12 ms"}}}
       ]},
      {"width": 198, "height": 60,
       "layer": [
        {"data": {"values": [{}]}, "mark": {"type": "rule", "color": "#8c8c8c", "strokeWidth": 2},
         "encoding": {"y": {"datum": 0, "type": "quantitative", "scale": {"domain": [-0.06, 1.03], "nice": false, "zero": false}, "axis": {"labels": false, "ticks": false, "title": null}}}},
        {"data": {"name": "sp"}, "transform": [{"filter": "datum.p == 'D3'"}], "mark": {"type": "rule", "color": "#8c8c8c", "strokeWidth": 2.5},
         "encoding": {"x": {"field": "m", "type": "quantitative", "scale": {"domain": [1458.35, 1470], "nice": false, "zero": false}, "axis": {"values": [1460, 1465, 1470], "labels": false, "title": null}},
                      "y": {"field": "v", "type": "quantitative"}, "y2": {"datum": 0}}},
        {"data": {"name": "sp"}, "transform": [{"filter": "datum.p == 'D3'"}], "mark": {"type": "line", "color": "#ff1a1a", "strokeWidth": 2.5, "interpolate": "monotone"},
         "encoding": {"x": {"field": "m", "type": "quantitative"}, "y": {"field": "v", "type": "quantitative"}}},
        {"data": {"name": "cp"}, "transform": [{"filter": "datum.p == 'D3'"}], "mark": {"type": "line", "color": "#000", "strokeWidth": 2, "strokeDash": [7, 6], "interpolate": "monotone"},
         "encoding": {"x": {"field": "m", "type": "quantitative"}, "y": {"field": "v", "type": "quantitative"}, "detail": {"field": "c"}}},
        {"data": {"name": "ce"}, "transform": [{"filter": "datum.p == 'D3'"}], "mark": {"type": "rule", "color": "#000", "strokeWidth": 3, "strokeDash": [3, 2.5]},
         "encoding": {"x": {"field": "m", "type": "quantitative"}, "y": {"field": "v", "type": "quantitative"}, "y2": {"datum": 0}}},
        {"data": {"values": [{}]}, "mark": {"type": "text", "align": "right", "baseline": "middle", "fontSize": 14},
         "encoding": {"x": {"datum": 1469.8}, "y": {"datum": 0.726}, "text": {"value": "23 ms"}}}
       ]},
      {"width": 198, "height": 60,
       "layer": [
        {"data": {"values": [{}]}, "mark": {"type": "rule", "color": "#8c8c8c", "strokeWidth": 2},
         "encoding": {"y": {"datum": 0, "type": "quantitative", "scale": {"domain": [-0.06, 1.03], "nice": false, "zero": false}, "axis": {"labels": false, "ticks": false, "title": null}}}},
        {"data": {"name": "sp"}, "transform": [{"filter": "datum.p == 'D4'"}], "mark": {"type": "rule", "color": "#8c8c8c", "strokeWidth": 2.5},
         "encoding": {"x": {"field": "m", "type": "quantitative", "scale": {"domain": [1458.35, 1470], "nice": false, "zero": false}, "axis": {"values": [1460, 1465, 1470], "labels": false, "title": null}},
                      "y": {"field": "v", "type": "quantitative"}, "y2": {"datum": 0}}},
        {"data": {"name": "sp"}, "transform": [{"filter": "datum.p == 'D4'"}], "mark": {"type": "line", "color": "#ff1a1a", "strokeWidth": 2.5, "interpolate": "monotone"},
         "encoding": {"x": {"field": "m", "type": "quantitative"}, "y": {"field": "v", "type": "quantitative"}}},
        {"data": {"name": "cp"}, "transform": [{"filter": "datum.p == 'D4'"}], "mark": {"type": "line", "color": "#000", "strokeWidth": 2, "strokeDash": [7, 6], "interpolate": "monotone"},
         "encoding": {"x": {"field": "m", "type": "quantitative"}, "y": {"field": "v", "type": "quantitative"}, "detail": {"field": "c"}}},
        {"data": {"name": "ce"}, "transform": [{"filter": "datum.p == 'D4'"}], "mark": {"type": "rule", "color": "#000", "strokeWidth": 3, "strokeDash": [3, 2.5]},
         "encoding": {"x": {"field": "m", "type": "quantitative"}, "y": {"field": "v", "type": "quantitative"}, "y2": {"datum": 0}}},
        {"data": {"values": [{}]}, "mark": {"type": "text", "align": "right", "baseline": "middle", "fontSize": 14},
         "encoding": {"x": {"datum": 1469.8}, "y": {"datum": 0.726}, "text": {"value": "43 ms"}}}
       ]},
      {"width": 198, "height": 60, "view": {"fill": "#dcdcdc"},
       "layer": [
        {"data": {"values": [{}]}, "mark": {"type": "rule", "color": "#8c8c8c", "strokeWidth": 2},
         "encoding": {"y": {"datum": 0, "type": "quantitative", "scale": {"domain": [-0.06, 1.03], "nice": false, "zero": false}, "axis": {"labels": false, "ticks": false, "title": null}}}},
        {"data": {"name": "sp"}, "transform": [{"filter": "datum.p == 'D5'"}], "mark": {"type": "rule", "color": "#8c8c8c", "strokeWidth": 2.5},
         "encoding": {"x": {"field": "m", "type": "quantitative", "scale": {"domain": [1458.35, 1470], "nice": false, "zero": false}, "axis": {"values": [1460, 1465, 1470], "format": "d", "title": "Mass (Da)", "labelPadding": 1, "titlePadding": 5, "labelFlush": true, "labelFlushOffset": 5, "titleX": 105}},
                      "y": {"field": "v", "type": "quantitative"}, "y2": {"datum": 0}}},
        {"data": {"name": "sp"}, "transform": [{"filter": "datum.p == 'D5'"}], "mark": {"type": "line", "color": "#ff1a1a", "strokeWidth": 2.5, "interpolate": "monotone"},
         "encoding": {"x": {"field": "m", "type": "quantitative"}, "y": {"field": "v", "type": "quantitative"}}},
        {"data": {"name": "sp"}, "transform": [{"filter": "datum.p == 'D5'"}], "mark": {"type": "line", "color": "#000", "strokeWidth": 2, "strokeDash": [7, 6], "interpolate": "monotone"},
         "encoding": {"x": {"field": "m", "type": "quantitative"}, "y": {"field": "v", "type": "quantitative"}}},
        {"data": {"name": "ce"}, "transform": [{"filter": "datum.p == 'D5'"}], "mark": {"type": "rule", "color": "#000", "strokeWidth": 3, "strokeDash": [3, 2.5]},
         "encoding": {"x": {"field": "m", "type": "quantitative"}, "y": {"field": "v", "type": "quantitative"}, "y2": {"datum": 0}}},
        {"data": {"values": [{}]}, "mark": {"type": "text", "align": "right", "baseline": "middle", "fontSize": 14},
         "encoding": {"x": {"datum": 1469.8}, "y": {"datum": 0.745}, "text": {"value": "Unfolded"}}}
       ]}
    ], "spacing": 3}
  ], "spacing": 1}
],
"spacing": 5
}
